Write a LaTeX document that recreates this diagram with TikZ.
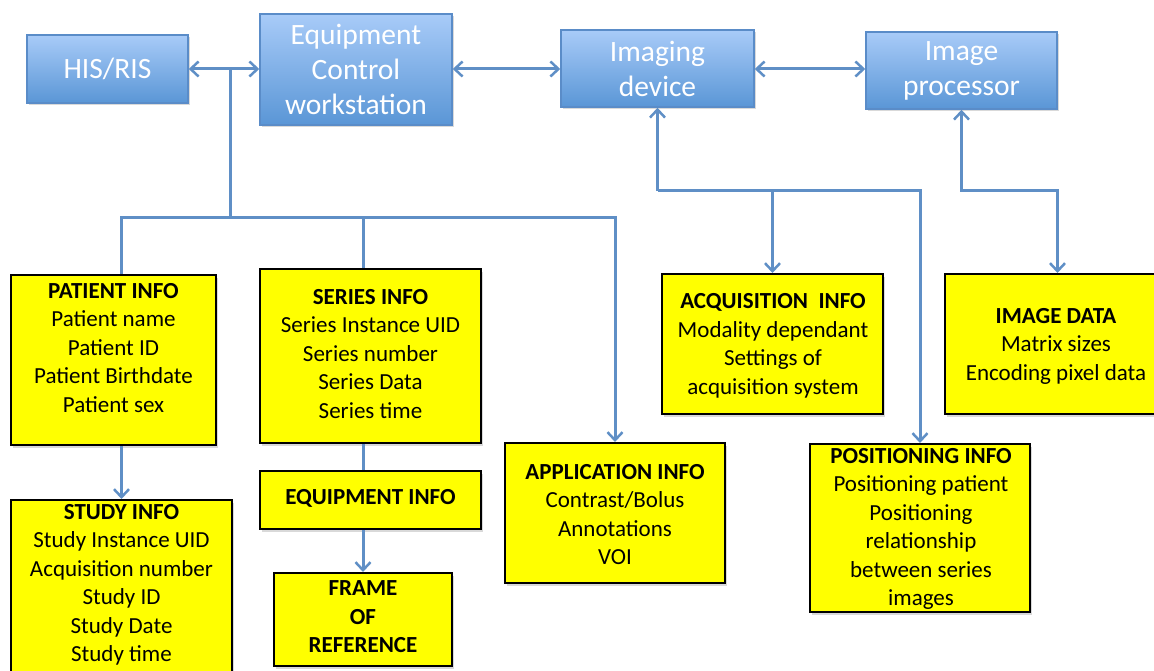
\documentclass[tikz,border=0pt]{standalone}
\usepackage{fontspec}
\setmainfont{Carlito}
\usetikzlibrary{arrows.meta,shadows,calc}
\definecolor{connc}{HTML}{5F8FC6}
\definecolor{bluetop}{HTML}{A8CBF8}
\definecolor{bluebot}{HTML}{5A96D6}
\definecolor{blueedge}{HTML}{5A8CC8}
\definecolor{yel}{HTML}{FFFF00}
\begin{document}
\begin{tikzpicture}[x=1pt,y=-1pt,
  bluebox/.style={draw=blueedge, line width=1.5pt, top color=bluetop, bottom color=bluebot,
    text=white, font=\fontsize{29.5}{35}\selectfont, align=center, inner sep=0pt,
    drop shadow={shadow xshift=1.5pt, shadow yshift=-2.5pt, opacity=0.3}},
  ybox/.style={draw=black, line width=2pt, fill=yel, inner sep=0pt,
    drop shadow={shadow xshift=1.5pt, shadow yshift=-2.5pt, opacity=0.3}},
  ytext/.style={font=\fontsize{23}{28.5}\selectfont, align=center, inner sep=0pt, text=black},
  conn/.style={draw=connc, line width=3pt},
  tip/.tip={Straight Barb[length=8pt,width=15pt,line width=2.5pt]},
  arr/.style={conn, -tip},
  biarr/.style={conn, tip-tip}
]
\useasboundingbox (0,0) rectangle (1154,671);
\clip (0,0) rectangle (1154,671);

% blue boxes
\node[bluebox, minimum width=161pt, minimum height=68pt] (his) at (107.5,69) {HIS/RIS};
\node[bluebox, minimum width=192pt, minimum height=111pt] (eq) at (356,69.5) {Equipment\\Control\\workstation};
\node[bluebox, minimum width=193pt, minimum height=77pt] (img) at (657.5,68.5) {Imaging\\device};
\node[bluebox, minimum width=191pt, minimum height=77pt] (proc) at (961.5,70.5) {Image\\processor};

% yellow boxes
\node[ybox, minimum width=205pt, minimum height=170pt] (pat) at (113.5,360) {};
\node[ybox, minimum width=221pt, minimum height=190pt] (stu) at (121.5,595) {};
\node[ybox, minimum width=221pt, minimum height=174pt] (ser) at (370.5,356) {};
\node[ybox, minimum width=221pt, minimum height=58pt] (eqi) at (370.5,500) {};
\node[ybox, minimum width=178pt, minimum height=93pt] (frm) at (363,619.5) {};
\node[ybox, minimum width=220pt, minimum height=140pt] (app) at (615,513) {};
\node[ybox, minimum width=221pt, minimum height=140pt] (acq) at (772.5,344) {};
\node[ybox, minimum width=225pt, minimum height=140pt] (idat) at (1057.5,344) {};
\node[ybox, minimum width=220pt, minimum height=168pt] (pos) at (920,528) {};

% texts
\node[ytext] (pat-t) at (113.5,348) {\textbf{PATIENT INFO}\\Patient name\\Patient ID\\Patient Birthdate\\Patient sex};
\node[ytext] (stu-t) at (121.5,585) {\textbf{STUDY INFO}\\Study Instance UID\\Acquisition number\\Study ID\\Study Date\\Study time};
\node[ytext] (ser-t) at (370.5,354) {\textbf{SERIES INFO}\\Series Instance UID\\Series number\\Series Data\\Series time};
\node[ytext] (eqi-t) at (370.5,498) {\textbf{EQUIPMENT INFO}};
\node[ytext] (frm-t) at (363,617) {\textbf{FRAME}\\\textbf{OF}\\\textbf{REFERENCE}};
\node[ytext] (app-t) at (615,514.5) {\textbf{APPLICATION INFO}\\Contrast/Bolus\\Annotations\\VOI};
\node[ytext] (acq-t) at (773,346) {\textbf{ACQUISITION\ \ INFO}\\Modality dependant\\Settings of\\acquisition system};
\node[ytext] (idat-t) at (1056,346) {\textbf{IMAGE DATA}\\Matrix sizes\\Encoding pixel data};
\node[ytext] (pos-t) at (921,529) {\textbf{POSITIONING INFO}\\Positioning patient\\Positioning\\relationship\\between series\\images};

% top connectors
\draw[biarr] (his.east) -- (his.east -| eq.west);
\draw[biarr] (eq.east |- his.east) -- (his.east -| img.west);
\draw[biarr] (img.east |- his.east) -- (his.east -| proc.west);

% trunk from HIS/RIS - workstation link
\coordinate (jt) at (230,69);
\coordinate (jb) at (230,218);
\coordinate (pj) at (121,218);
\draw[conn] (jt) -- (jb);
\draw[arr] (pat.north -| pj) -- (pj) -- (app.north |- jb) -- (app.north);
\draw[conn] (frm.north |- jb) -- (frm.north |- ser.north);
\draw[arr] (pat.south -| stu.north) -- (stu.north);
\draw[conn] (ser.south -| frm.north) -- (eqi.north -| frm.north);
\draw[arr] (eqi.south -| frm.north) -- (frm.north);

% imaging device branches
\coordinate (ib) at (657.5,191);
\draw[arr] (ib) -- (img.south);
\draw[arr] (ib) -- (pos.north |- ib) -- (pos.north);
\draw[arr] (acq.north |- ib) -- (acq.north);

% image processor branch
\coordinate (pb) at (961.5,191);
\draw[biarr] (idat.north) -- (idat.north |- pb) -- (pb) -- (proc.south);
\end{tikzpicture}
\end{document}
